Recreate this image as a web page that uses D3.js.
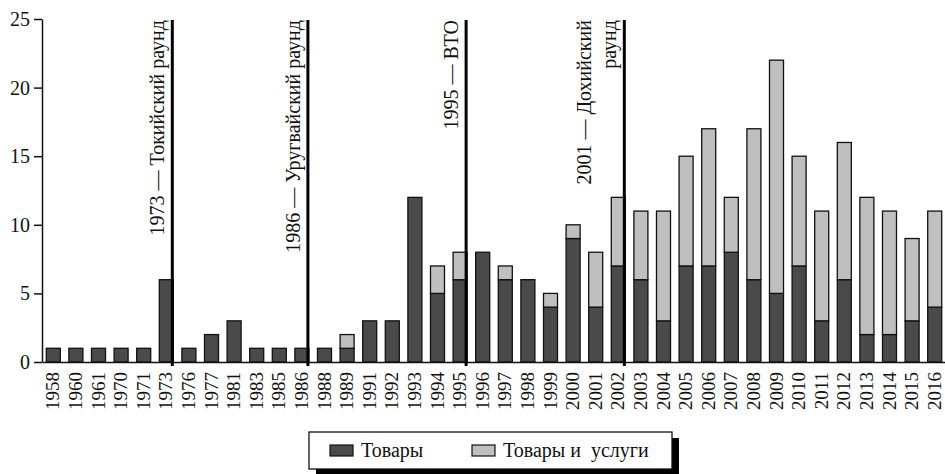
<!DOCTYPE html>
<html>
<head>
<meta charset="utf-8">
<script src="https://cdn.jsdelivr.net/npm/d3@7"></script>
<style>
  body { margin: 0; background: #fff; }
  svg { display: block; font-family: "Liberation Serif", "DejaVu Serif", serif; }
</style>
</head>
<body>
<div id="chart"></div>
<script>
const width = 945;
const height = 474;

const years = ["1958", "1960", "1961", "1970", "1971", "1973", "1976", "1977", "1981", "1983",
  "1985", "1986", "1988", "1989", "1991", "1992", "1993", "1994", "1995", "1996",
  "1997", "1998", "1999", "2000", "2001", "2002", "2003", "2004", "2005", "2006",
  "2007", "2008", "2009", "2010", "2011", "2012", "2013", "2014", "2015", "2016"];

const goods = [1, 1, 1, 1, 1, 6, 1, 2, 3, 1,
  1, 1, 1, 1, 3, 3, 12, 5, 6, 8,
  6, 6, 4, 9, 4, 7, 6, 3, 7, 7,
  8, 6, 5, 7, 3, 6, 2, 2, 3, 4];

const goodsServices = [0, 0, 0, 0, 0, 0, 0, 0, 0, 0,
  0, 0, 0, 1, 0, 0, 0, 2, 2, 0,
  1, 0, 1, 1, 4, 5, 5, 8, 8, 10,
  4, 11, 17, 8, 8, 10, 10, 9, 6, 7];

const yTicks = [0, 5, 10, 15, 20, 25];

const seriesNames = ["Товары", "Товары и  услуги"];

const rounds = [
  {year: "1973", lines: ["1973 — Токийский раунд"]},
  {year: "1986", lines: ["1986 — Уругвайский раунд"]},
  {year: "1995", lines: ["1995 — ВТО"]},
  {year: "2002", lines: ["2001 — Дохийский", "раунд"]}
];

const colors = ["#4a4a4a", "#bfbfbf"];
const font = "'Liberation Serif', 'DejaVu Serif', serif";

const data = years.map((y, i) => ({year: y, goods: goods[i], services: goodsServices[i]}));

const x = d3.scaleBand()
    .domain(years)
    .range([42, 946])
    .paddingInner(0.38)
    .paddingOuter(0.19);

const y = d3.scaleLinear()
    .domain([0, 25])
    .range([362, 19]);

const stack = d3.stack().keys(["goods", "services"]);
const series = stack(data);

const svg = d3.select("#chart")
    .append("svg")
    .attr("width", width)
    .attr("height", height)
    .attr("viewBox", [0, 0, width, height])
    .style("font-family", font);

// bars
svg.append("g")
  .selectAll("g")
  .data(series)
  .join("g")
    .attr("fill", (d, i) => colors[i])
  .selectAll("rect")
  .data(d => d.filter(s => s[1] - s[0] > 0))
  .join("rect")
    .attr("x", d => x(d.data.year))
    .attr("y", d => y(d[1]))
    .attr("width", x.bandwidth())
    .attr("height", d => y(d[0]) - y(d[1]))
    .attr("stroke", "#111")
    .attr("stroke-width", 1.3);

// y axis
const yAxis = svg.append("g")
    .attr("transform", "translate(42,0)")
    .call(d3.axisLeft(y).tickValues(yTicks).tickSize(8).tickSizeOuter(0).tickPadding(4))
    .attr("font-family", null);
yAxis.selectAll("text").attr("font-size", 20).style("font-family", font).attr("fill", "#111");
yAxis.selectAll("line, path").attr("stroke", "#111").attr("stroke-width", 1.5);

// x axis
const xAxis = svg.append("g")
    .attr("transform", "translate(0,362)")
    .call(d3.axisBottom(x).tickSize(0).tickSizeOuter(0).tickPadding(0))
    .attr("font-family", null);
xAxis.select(".domain").attr("stroke", "#111").attr("stroke-width", 1.5);
xAxis.selectAll("text")
    .attr("font-size", 19)
    .style("font-family", font)
    .attr("fill", "#111")
    .attr("text-anchor", "end")
    .attr("dy", null)
    .attr("y", null)
    .attr("transform", "translate(6,10) rotate(-90)");

// round markers
const marks = svg.append("g")
  .selectAll("g")
  .data(rounds)
  .join("g")
    .attr("transform", d => `translate(${x(d.year) + x.bandwidth() - 1},0)`);

marks.append("line")
    .attr("y1", 20)
    .attr("y2", 366)
    .attr("stroke", "#000")
    .attr("stroke-width", 3);

marks.selectAll("text")
  .data(d => d.lines.map((t, i, a) => ({t, off: 8 + (a.length - 1 - i) * 25})))
  .join("text")
    .attr("transform", d => `translate(${-d.off},20) rotate(-90)`)
    .attr("text-anchor", "end")
    .attr("font-size", 20)
    .attr("fill", "#111")
    .text(d => d.t);

// legend
const legend = svg.append("g").attr("transform", "translate(309,432)");
legend.append("rect")
    .attr("x", 7).attr("y", 6)
    .attr("width", 363).attr("height", 37)
    .attr("fill", "#000");
legend.append("rect")
    .attr("width", 363).attr("height", 37)
    .attr("fill", "#fff")
    .attr("stroke", "#111")
    .attr("stroke-width", 1.3);

const item = legend.selectAll("g.item")
  .data(seriesNames)
  .join("g")
    .attr("class", "item")
    .attr("transform", (d, i) => `translate(${21 + i * 142},13)`);

item.append("rect")
    .attr("width", 23).attr("height", 11)
    .attr("fill", (d, i) => colors[i])
    .attr("stroke", "#111")
    .attr("stroke-width", 1.2);

item.append("text")
    .attr("x", 31)
    .attr("y", 12)
    .attr("font-size", 20)
    .attr("fill", "#111")
    .style("white-space", "pre")
    .text(d => d);
</script>
</body>
</html>
